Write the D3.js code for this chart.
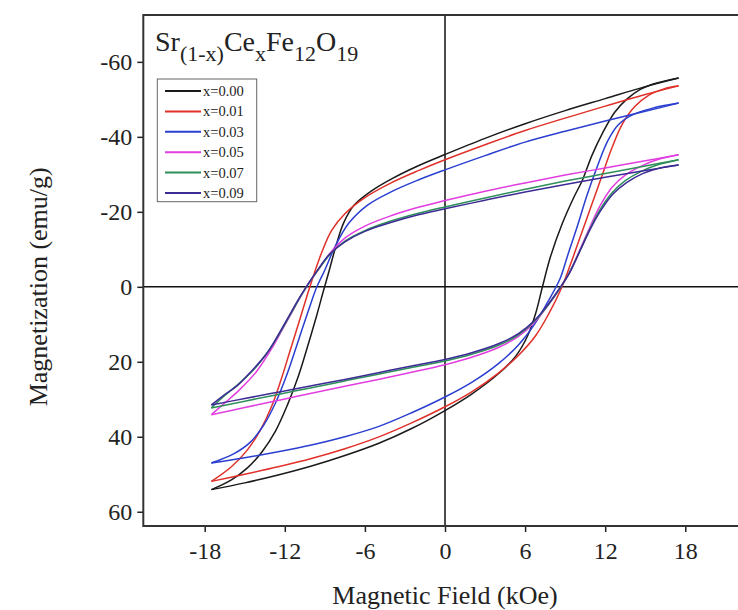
<!DOCTYPE html>
<html>
<head>
<meta charset="utf-8">
<script src="https://cdn.jsdelivr.net/npm/d3@7"></script>
<style>
	body { margin: 0; background: #fff; }
	svg text { font-family: "Liberation Serif", "Times New Roman", serif; fill: #222; }
</style>
</head>
<body>
<svg id="chart" width="738" height="610"></svg>
<script>
// series names and colours (legend order)
var seriesNames = ["x=0.00", "x=0.01", "x=0.03", "x=0.05", "x=0.07", "x=0.09"];
var seriesColors = ["#1a1a1a", "#e0302a", "#2a3fd0", "#e23de0", "#2f8f5a", "#3c2a95"];

var xTicks = [-18, -12, -6, 0, 6, 12, 18];
var yTicks = [-60, -40, -20, 0, 20, 40, 60];

// [H (kOe), M (emu/g)], upper branch: field swept + to -
var upper000 = [[17.5,-55.7],[15,-53.4],[12,-50.2],[9,-47],[6,-43.5],[3,-39.6],[0,-35.3],[-2,-32.3],[-4,-28.8],[-5.5,-25.6],[-6.8,-21.8],[-7.6,-17],[-8.2,-10.5],[-8.7,-4],[-9.1,1],[-9.6,7.5],[-10.3,16],[-11,24],[-11.8,31.5],[-12.7,38.5],[-13.7,44],[-14.8,48.3],[-16,51.5],[-17.5,54.1]];
var lower000 = [[-17.5,54.1],[-15,52.3],[-12.5,50.2],[-10,47.8],[-7.5,45],[-5,41.8],[-2.5,37.8],[0,33],[2,28.6],[4,23.2],[5.3,18.5],[6.2,13],[6.8,7],[7.3,0],[7.9,-8],[8.8,-17],[9.6,-23.5],[10.3,-28.5],[11,-35],[11.8,-41],[12.7,-46.5],[13.6,-50],[14.6,-52.6],[15.8,-54.3],[17.5,-55.7]];

var upper001 = [[17.5,-53.6],[15,-51.3],[12,-48.2],[9,-45],[6,-41.7],[3,-37.9],[0,-33.9],[-2,-31],[-4,-27.8],[-6,-23.8],[-7.5,-19.5],[-8.5,-15],[-9.2,-9.5],[-9.8,-3.5],[-10.3,2],[-10.9,9],[-11.6,17],[-12.3,25],[-13,32],[-13.8,38],[-14.8,43.5],[-16,48],[-17.5,51.9]];
var lower001 = [[-17.5,51.9],[-15,50],[-12.5,48],[-10,45.8],[-7.5,43.2],[-5,40.1],[-2.5,36.3],[0,32],[2,28],[4,23],[5.5,18.3],[6.8,13],[7.8,7],[8.7,0.5],[9.4,-6],[10.1,-13],[10.9,-21],[11.7,-29],[12.5,-37],[13.3,-43.5],[14.2,-48],[15.3,-51.2],[16.4,-52.8],[17.5,-53.6]];

var upper003 = [[17.5,-49],[15,-46.8],[12,-44.2],[9,-41.5],[6,-38.6],[3,-35],[0,-31.2],[-2,-28.5],[-4,-25.4],[-5.8,-21.8],[-7.2,-17],[-8.2,-11],[-9,-4.5],[-9.6,0],[-10.2,6],[-11,14.5],[-11.8,23],[-12.7,31],[-13.6,37],[-14.6,41.5],[-15.8,44.5],[-17.5,47]];
var lower003 = [[-17.5,47],[-15,45.6],[-12.5,44],[-10,42.2],[-7.5,40],[-5,37.3],[-2.5,33.6],[0,29.4],[2,25.5],[4,20.5],[5.5,15.5],[6.7,10],[7.7,4],[8.6,-2],[9.2,-8.5],[9.9,-16],[10.6,-24],[11.4,-32],[12.2,-39],[13,-43.3],[14,-45.8],[15.5,-47.6],[17.5,-49]];

var upper005 = [[17.5,-35.2],[15,-33.6],[12,-31.7],[9,-29.8],[6,-27.7],[3,-25.5],[0,-23],[-2,-21.2],[-4,-19],[-6,-16.2],[-7.5,-13],[-8.6,-9],[-9.5,-4.5],[-10.2,-1],[-10.8,2.5],[-11.5,7],[-12.2,11.5],[-12.9,16],[-14.1,22.5],[-15.4,27.5],[-16.5,31],[-17.5,34.1]];
var lower005 = [[-17.5,34.1],[-15,32.2],[-12.5,30.3],[-10,28.4],[-7.5,26.5],[-5,24.7],[-2.5,22.8],[0,20.8],[2,18.8],[4,16.2],[5.5,13.2],[6.7,9.5],[7.7,5],[8.5,1],[9.2,-3],[10,-9],[10.8,-15.5],[11.6,-21.5],[12.5,-26.5],[13.5,-29.8],[14.7,-32.2],[16,-34],[17.5,-35.2]];

var upper007 = [[17.5,-33.9],[15,-32.2],[12,-30.2],[9,-28.2],[6,-26],[3,-23.7],[0,-21.3],[-2,-19.6],[-4,-17.6],[-6,-15],[-7.5,-12.2],[-8.6,-8.7],[-9.5,-4.5],[-10.2,-1],[-10.8,2.5],[-11.6,7.5],[-12.4,12.5],[-13.2,17],[-14.3,22],[-15.5,26],[-16.5,29],[-17.5,32.3]];
var lower007 = [[-17.5,32.3],[-15,30.5],[-12.5,28.7],[-10,26.9],[-7.5,25.1],[-5,23.3],[-2.5,21.5],[0,19.8],[2,18],[4,15.6],[5.5,12.8],[6.7,9.2],[7.7,5],[8.5,1],[9.2,-3],[10,-8.8],[10.8,-15],[11.6,-20.5],[12.5,-25],[13.5,-28.3],[14.7,-30.8],[16,-32.6],[17.5,-33.9]];

var upper009 = [[17.5,-32.5],[15,-31],[12,-29.2],[9,-27.3],[6,-25.3],[3,-23.1],[0,-20.8],[-2,-19.2],[-4,-17.2],[-6,-14.8],[-7.5,-12],[-8.7,-8.5],[-9.6,-4.2],[-10.3,-0.5],[-11,3.5],[-11.8,8.5],[-12.6,13.5],[-13.4,18],[-14.5,22.5],[-15.6,26.5],[-16.6,29],[-17.5,31.5]];
var lower009 = [[-17.5,31.5],[-15,29.8],[-12.5,28.1],[-10,26.4],[-7.5,24.7],[-5,22.9],[-2.5,21.1],[0,19.4],[2,17.6],[4,15.2],[5.5,12.5],[6.7,9],[7.7,4.8],[8.5,0.8],[9.3,-3.5],[10.1,-9.5],[10.9,-15.5],[11.7,-20.5],[12.6,-24.8],[13.6,-27.8],[14.8,-30.2],[16.1,-31.7],[17.5,-32.5]];

var upperBranches = [upper000, upper001, upper003, upper005, upper007, upper009];
var lowerBranches = [lower000, lower001, lower003, lower005, lower007, lower009];

var plotLeft = 143.3,
	plotRight = 746.7,
	plotTop = 15,
	plotBottom = 526;

var svg = d3.select("#chart");

var x = d3.scaleLinear().domain([-22.6, 22.6]).range([plotLeft, plotRight]);
// magnetization axis runs with negative values on top
var y = d3.scaleLinear().domain([-72.5, 63.8]).range([plotTop, plotBottom]);

var line = d3.line()
	.x(function(d) { return x(d[0]); })
	.y(function(d) { return y(d[1]); })
	.curve(d3.curveCatmullRom.alpha(0.5));

// axes
var xAxis = d3.axisBottom(x).tickValues(xTicks).tickSize(6).tickPadding(10)
	.tickFormat(function(d) { return String(d); });
var yAxis = d3.axisLeft(y).tickValues(yTicks).tickSize(6).tickPadding(5)
	.tickFormat(function(d) { return String(d); });

var gx = svg.append("g").attr("transform", "translate(0," + plotBottom + ")").call(xAxis);
var gy = svg.append("g").attr("transform", "translate(" + plotLeft + ",0)").call(yAxis);
[gx, gy].forEach(function(g) {
	g.select(".domain").remove();
	g.selectAll(".tick line").attr("stroke", "#222").attr("stroke-width", 1.5);
	g.selectAll(".tick text")
		.attr("fill", "#222")
		.style("font-size", "24px")
		.style("font-family", "'Liberation Serif', 'Times New Roman', serif");
});

// zero lines
svg.append("line")
	.attr("x1", x(0)).attr("x2", x(0))
	.attr("y1", plotTop).attr("y2", plotBottom)
	.attr("stroke", "#111").attr("stroke-width", 1.5);
svg.append("line")
	.attr("x1", plotLeft).attr("x2", plotRight)
	.attr("y1", y(0)).attr("y2", y(0))
	.attr("stroke", "#111").attr("stroke-width", 1.5);

// hysteresis loops
var loops = svg.append("g").attr("fill", "none").attr("stroke-width", 1.5);
seriesNames.forEach(function(name, i) {
	loops.append("path")
		.datum(upperBranches[i])
		.attr("d", line)
		.attr("stroke", seriesColors[i]);
	loops.append("path")
		.datum(lowerBranches[i])
		.attr("d", line)
		.attr("stroke", seriesColors[i]);
});

// plot frame
svg.append("rect")
	.attr("x", plotLeft).attr("y", plotTop)
	.attr("width", plotRight - plotLeft).attr("height", plotBottom - plotTop)
	.attr("fill", "none").attr("stroke", "#333").attr("stroke-width", 2);

// composition label
var formula = svg.append("text")
	.attr("x", 155).attr("y", 51)
	.style("font-size", "28px");
var parts = [["Sr", 0], ["(1-x)", 1], ["Ce", 0], ["x", 1], ["Fe", 0], ["12", 1], ["O", 0], ["19", 1]];
var shifted = 0;
parts.forEach(function(p) {
	var dy = p[1] ? 10 - shifted : -shifted;
	shifted = p[1] ? 10 : 0;
	formula.append("tspan")
		.attr("dy", dy)
		.style("font-size", p[1] ? "22px" : "28px")
		.text(p[0]);
});

// legend
var legend = svg.append("g");
legend.append("rect")
	.attr("x", 157.3).attr("y", 79)
	.attr("width", 99.4).attr("height", 122.7)
	.attr("fill", "#fff").attr("stroke", "#666").attr("stroke-width", 1);
var rowY = d3.scalePoint().domain(seriesNames).range([91, 193]);
seriesNames.forEach(function(name, i) {
	legend.append("line")
		.attr("x1", 165).attr("x2", 201)
		.attr("y1", rowY(name)).attr("y2", rowY(name))
		.attr("stroke", seriesColors[i]).attr("stroke-width", 2);
	legend.append("text")
		.attr("x", 203).attr("y", rowY(name))
		.attr("dy", "0.35em")
		.style("font-size", "14.5px")
		.text(name);
});

// axis titles
svg.append("text")
	.attr("x", x(0)).attr("y", 604)
	.attr("text-anchor", "middle")
	.style("font-size", "26px")
	.text("Magnetic Field (kOe)");
svg.append("text")
	.attr("transform", "translate(47," + y(0) + ") rotate(-90)")
	.attr("text-anchor", "middle")
	.style("font-size", "26px")
	.text("Magnetization (emu/g)");
</script>
</body>
</html>
